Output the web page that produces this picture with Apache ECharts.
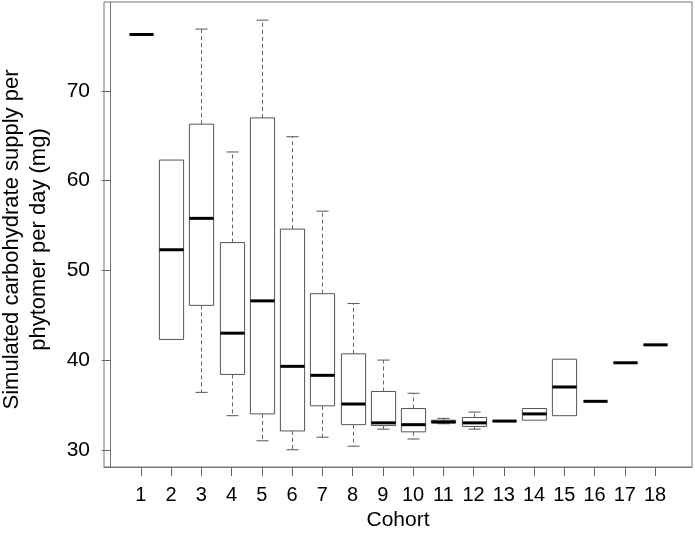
<!DOCTYPE html>
<html>
<head>
<meta charset="utf-8">
<script src="https://cdn.jsdelivr.net/npm/echarts@6/dist/echarts.min.js"></script>
<style>
  html, body { margin: 0; padding: 0; background: #fff; }
  #chart { width: 695px; height: 534px; }
</style>
</head>
<body>
<div id="chart"></div>
<script>
// boxplot stats per cohort
var cohorts = [1, 2, 3, 4, 5, 6, 7, 8, 9, 10, 11, 12, 13, 14, 15, 16, 17, 18];
var lowerWhisker = [76.3, 42.3, 36.4, 33.8, 31.0, 30.0, 31.4, 30.4, 32.3, 31.2, 32.9, 32.3, 33.2, 33.3, 33.8, 35.4, 39.7, 41.7];
var q1 = [76.3, 42.3, 46.1, 38.4, 34.0, 32.1, 34.9, 32.8, 32.7, 32.0, 33.0, 32.6, 33.2, 33.3, 33.8, 35.4, 39.7, 41.7];
var median = [76.3, 52.3, 55.8, 43.0, 46.6, 39.3, 38.3, 35.1, 33.0, 32.8, 33.1, 33.0, 33.2, 34.0, 37.0, 35.4, 39.7, 41.7];
var q3 = [76.3, 62.3, 66.3, 53.1, 67.0, 54.6, 47.4, 40.7, 36.5, 34.6, 33.3, 33.6, 33.2, 34.6, 40.1, 35.4, 39.7, 41.7];
var upperWhisker = [76.3, 62.3, 76.9, 63.2, 77.9, 64.9, 56.6, 46.3, 40.0, 36.3, 33.5, 34.2, 33.2, 34.6, 40.1, 35.4, 39.7, 41.7];
var yTicks = [30, 40, 50, 60, 70];

var font = '"Liberation Sans", Arial, Helvetica, sans-serif';

var boxData = cohorts.map(function (c, i) {
  return [c, lowerWhisker[i], q1[i], median[i], q3[i], upperWhisker[i]];
});

function renderBox(params, api) {
  var x = api.value(0);
  var lo = api.coord([x, api.value(1)]);
  var b1 = api.coord([x, api.value(2)]);
  var md = api.coord([x, api.value(3)]);
  var b3 = api.coord([x, api.value(4)]);
  var hi = api.coord([x, api.value(5)]);
  var w = api.size([0.8, 0])[0];
  var cx = Math.round(lo[0]) + 0.5;
  var left = cx - w / 2;
  var kids = [];
  var lineStyle = { stroke: '#555', lineWidth: 1, fill: null };
  var dashStyle = { stroke: '#666', lineWidth: 1, lineDash: [4, 3] };

  if (b1[1] - b3[1] > 0.5) {
    kids.push({ type: 'rect', shape: { x: left, y: b3[1], width: w, height: b1[1] - b3[1] }, style: lineStyle });
  }
  if (lo[1] - b1[1] > 0.5) {
    kids.push({ type: 'line', shape: { x1: cx, y1: b1[1], x2: cx, y2: lo[1] }, style: dashStyle });
    kids.push({ type: 'line', shape: { x1: cx - w / 4, y1: lo[1], x2: cx + w / 4, y2: lo[1] }, style: { stroke: '#555', lineWidth: 1 } });
  }
  if (b3[1] - hi[1] > 0.5) {
    kids.push({ type: 'line', shape: { x1: cx, y1: b3[1], x2: cx, y2: hi[1] }, style: dashStyle });
    kids.push({ type: 'line', shape: { x1: cx - w / 4, y1: hi[1], x2: cx + w / 4, y2: hi[1] }, style: { stroke: '#555', lineWidth: 1 } });
  }
  kids.push({ type: 'line', shape: { x1: left, y1: md[1], x2: left + w, y2: md[1] }, style: { stroke: '#000', lineWidth: 3 } });
  return { type: 'group', children: kids };
}

var chart = echarts.init(document.getElementById('chart'), null, { renderer: 'canvas' });

var option = {
  backgroundColor: '#fff',
  animation: false,
  grid: {
    left: 104, right: 3, top: 2, bottom: 67,
    outerBoundsMode: 'none',
    containLabel: false,
    show: true, borderColor: '#777', borderWidth: 1, backgroundColor: 'transparent'
  },
  xAxis: {
    type: 'value',
    min: -0.22,
    max: 19.22,
    name: 'Cohort',
    nameLocation: 'middle',
    nameGap: 41,
    nameTextStyle: { fontFamily: font, fontSize: 21, color: '#000' },
    axisLine: { show: true, lineStyle: { color: '#777' } },
    axisTick: { show: true, length: 9, customValues: cohorts, lineStyle: { color: '#666' } },
    axisLabel: { customValues: cohorts, fontFamily: font, fontSize: 20, color: '#000', margin: 18 },
    splitLine: { show: false }
  },
  yAxis: {
    type: 'value',
    min: 28.08,
    max: 79.92,
    name: 'Simulated carbohydrate supply per\nphytomer per day (mg)',
    nameLocation: 'middle',
    nameGap: 52,
    nameTextStyle: { fontFamily: font, fontSize: 22, color: '#000', lineHeight: 27, padding: [0, 10, 0, 0] },
    axisLine: { show: true, lineStyle: { color: '#777' } },
    axisTick: { show: true, length: 9, customValues: yTicks, lineStyle: { color: '#666' } },
    axisLabel: { customValues: yTicks, fontFamily: font, fontSize: 21, color: '#000', margin: 14 },
    splitLine: { show: false }
  },
  series: [{
    type: 'custom',
    renderItem: renderBox,
    encode: { x: 0, y: [1, 2, 3, 4, 5] },
    data: boxData,
    clip: true
  }]
};

chart.setOption(option);
</script>
</body>
</html>
